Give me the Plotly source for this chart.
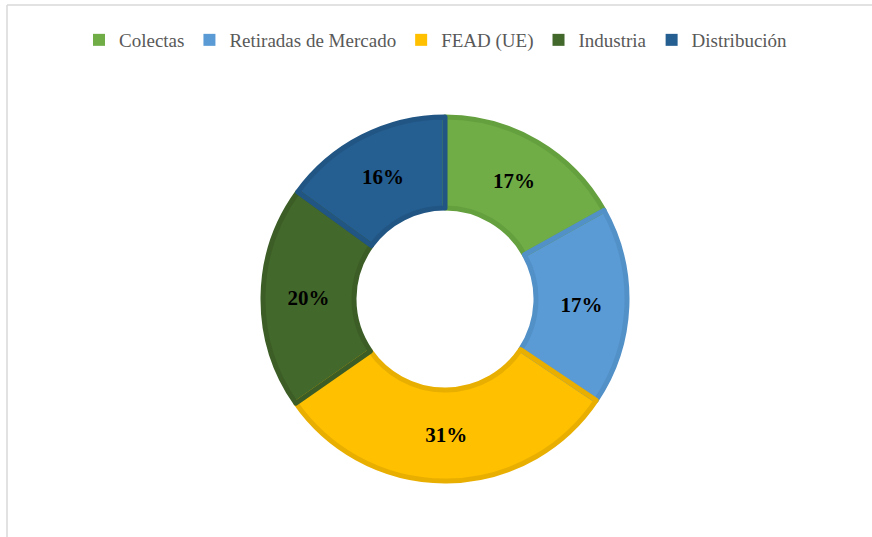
import plotly.graph_objects as go

categories = ["Colectas", "Retiradas de Mercado", "FEAD (UE)", "Industria", "Distribución"]
values = [16.9, 17.5, 30.9, 19.7, 15.0]
pct_labels = ["17%", "17%", "31%", "20%", "16%"]

fill_colors = ["#70AD47", "#5B9BD5", "#FFC000", "#43682B", "#255E91"]
edge_colors = ["#65A03E", "#5290C8", "#E9AF00", "#3C5E26", "#215684"]

W, H = 872, 537
cx, cy, r = 445, 299, 182
domain = dict(x=[(cx - r) / W, (cx + r) / W], y=[(H - cy - r) / H, (H - cy + r) / H])

fig = go.Figure()
# filled slices (these give the legend its plain squares)
fig.add_trace(go.Pie(
    labels=categories,
    values=values,
    text=pct_labels,
    textinfo="text",
    textposition="inside",
    insidetextorientation="horizontal",
    textfont=dict(family="Liberation Serif", size=21, color="black", weight="bold"),
    hole=0.5,
    sort=False,
    direction="clockwise",
    rotation=0,
    marker=dict(colors=fill_colors, line=dict(width=0)),
    domain=domain,
    hoverinfo="label+text",
))
# darker edge around every slice
fig.add_trace(go.Pie(
    labels=categories,
    values=values,
    textinfo="none",
    hole=0.5,
    sort=False,
    direction="clockwise",
    rotation=0,
    marker=dict(colors=["rgba(0,0,0,0)"] * len(categories), line=dict(color=edge_colors, width=5)),
    domain=domain,
    showlegend=False,
    hoverinfo="skip",
))

fig.update_layout(
    width=W, height=H,
    margin=dict(l=0, r=0, t=0, b=0, autoexpand=False),
    paper_bgcolor="white",
    showlegend=True,
    legend=dict(
        orientation="h",
        x=0.5, xanchor="center",
        y=1 - 40 / H, yanchor="middle",
        font=dict(family="Liberation Serif", size=19, color="#595959"),
        itemwidth=30,
        traceorder="normal",
    ),
    shapes=[
        dict(type="line", xref="paper", yref="paper", x0=7 / W, x1=1, y0=1 - 5 / H, y1=1 - 5 / H,
             line=dict(color="#D9D9D9", width=1.5)),
        dict(type="line", xref="paper", yref="paper", x0=7 / W, x1=7 / W, y0=0, y1=1 - 5 / H,
             line=dict(color="#D9D9D9", width=1.5)),
    ],
)

fig.write_html("out.html", config={"displayModeBar": False},
               post_script="document.body.style.margin='0px';")
